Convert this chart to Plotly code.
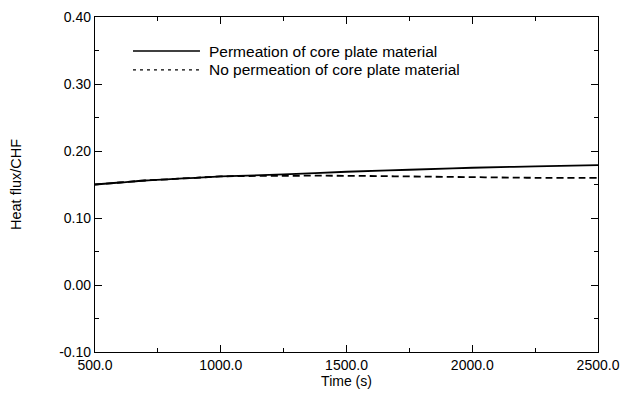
import plotly.graph_objects as go

time_s = [500, 600, 700, 800, 900, 1000, 1250, 1500, 1750, 2000, 2250, 2500]
permeation = [0.150, 0.153, 0.156, 0.158, 0.160, 0.162, 0.165, 0.169, 0.172, 0.175, 0.177, 0.179]
no_permeation = [0.150, 0.153, 0.156, 0.158, 0.160, 0.162, 0.163, 0.163, 0.162, 0.161, 0.160, 0.160]

series_names = ["Permeation of core plate material", "No permeation of core plate material"]
x_ticks = [500, 1000, 1500, 2000, 2500]
x_tick_labels = ["500.0", "1000.0", "1500.0", "2000.0", "2500.0"]
y_ticks = [-0.10, 0.00, 0.10, 0.20, 0.30, 0.40]
y_tick_labels = ["-0.10", "0.00", "0.10", "0.20", "0.30", "0.40"]

FONT = "Liberation Sans, Arial, Helvetica, sans-serif"

fig = go.Figure()
fig.add_trace(go.Scatter(x=time_s, y=permeation, mode="lines", name=series_names[0],
                         line=dict(color="black", width=1.8), line_shape="spline", showlegend=False))
fig.add_trace(go.Scatter(x=time_s, y=no_permeation, mode="lines", name=series_names[1],
                         line=dict(color="black", width=1.8, dash="7px,4px"), line_shape="spline", showlegend=False))

# manual legend
leg_y = [0.8985, 0.842]
dashes = ["solid", "3px,4px"]
for name, yy, d in zip(series_names, leg_y, dashes):
    fig.add_shape(type="line", xref="paper", yref="paper", x0=0.0755, x1=0.2087, y0=yy, y1=yy,
                  line=dict(color="black", width=1.3, dash=d))
    fig.add_annotation(xref="paper", yref="paper", x=0.2227, y=yy, text=name, showarrow=False,
                       xanchor="left", yanchor="middle", font=dict(family=FONT, size=15.5, color="black"))

axis_common = dict(showgrid=False, zeroline=False, showline=True, linecolor="black", linewidth=1.3,
                   mirror="ticks", ticks="inside", ticklen=7, tickwidth=1.2, tickcolor="black",
                   tickfont=dict(family=FONT, size=14, color="black"), automargin=False)

fig.update_xaxes(range=[500, 2500], tickvals=x_ticks, ticktext=x_tick_labels,
                 title=dict(text="Time (s)", font=dict(family=FONT, size=14, color="black"), standoff=4),
                 minor=dict(dtick=250, ticks="inside", ticklen=4, tickcolor="black", tickwidth=1),
                 **axis_common)
fig.update_yaxes(range=[-0.10, 0.40], tickvals=y_ticks, ticktext=y_tick_labels,
                 title=dict(text="Heat flux/CHF", font=dict(family=FONT, size=14.5, color="black"), standoff=34),
                 minor=dict(dtick=0.05, tick0=0, ticks="inside", ticklen=4, tickcolor="black", tickwidth=1),
                 **axis_common)

fig.update_layout(width=631, height=389, margin=dict(l=87, r=41, t=9, b=45),
                  paper_bgcolor="white", plot_bgcolor="white",
                  font=dict(family=FONT, size=14, color="black"))

fig.write_html("out.html")
